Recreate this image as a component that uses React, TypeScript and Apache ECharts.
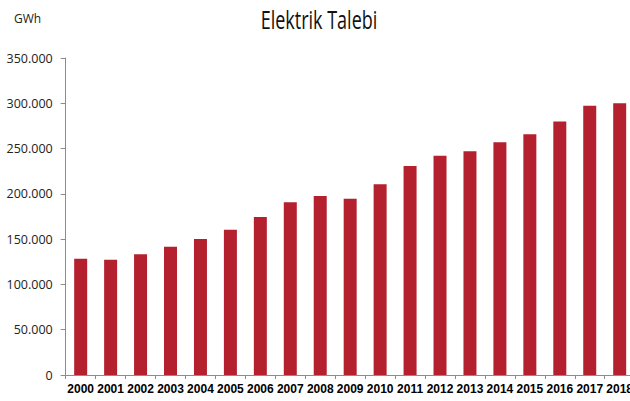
import React, { useEffect, useRef } from "react";
import * as echarts from "echarts";

const years = ["2000","2001","2002","2003","2004","2005","2006","2007","2008","2009","2010","2011","2012","2013","2014","2015","2016","2017","2018"];
const demand = [128400, 127300, 133200, 141700, 150200, 160400, 174400, 190700, 197600, 194700, 210500, 230800, 242200, 247000, 257000, 265700, 280000, 297400, 300000];
const titleText = "Elektrik Talebi";
const unitText = "GWh";

function fmt(v: number): string {
  if (v === 0) return "0";
  const s = String(Math.round(v));
  return s.replace(/\B(?=(\d{3})+(?!\d))/g, ".");
}

export default function App() {
  const ref = useRef<HTMLDivElement>(null);
  useEffect(() => {
    if (!ref.current) return;
    const chart = echarts.init(ref.current, null, { renderer: "svg" });
    chart.setOption({
      animation: false,
      backgroundColor: "#ffffff",
      graphic: [
        {
          type: "text",
          x: 319,
          y: 7,
          scaleX: 0.72,
          style: {
            text: titleText,
            x: 0,
            y: 0,
            textAlign: "center",
            textVerticalAlign: "top",
            font: "25px 'Open Sans', sans-serif",
            fill: "#111",
          },
        },
        {
          type: "text",
          left: 14,
          top: 12,
          style: {
            text: unitText,
            font: "12px 'Open Sans', sans-serif",
            fill: "#222",
          },
        },
      ],
      grid: { left: 65.7, right: 0, top: 58, bottom: 26, containLabel: false },
      xAxis: {
        type: "category",
        data: years,
        axisLine: { lineStyle: { color: "#8c8c8c", width: 1 } },
        axisTick: { show: true, length: 4, lineStyle: { color: "#8c8c8c" } },
        axisLabel: {
          interval: 0,
          margin: 8,
          fontFamily: "'Liberation Sans', Arial, sans-serif",
          fontWeight: "bold",
          fontSize: 12,
          color: "#000",
        },
      },
      yAxis: {
        type: "value",
        min: 0,
        max: 350000,
        interval: 50000,
        splitLine: { show: false },
        axisLine: { show: true, lineStyle: { color: "#8c8c8c", width: 1 } },
        axisTick: { show: true, length: 5, lineStyle: { color: "#8c8c8c" } },
        axisLabel: {
          margin: 13,
          formatter: (v: number) => fmt(v),
          fontFamily: "'Open Sans', sans-serif",
          fontSize: 12.5,
          color: "#222",
        },
      },
      series: [
        {
          type: "bar",
          data: demand,
          barWidth: 13,
          itemStyle: { color: "#B5202F" },
        },
      ],
    });
    return () => chart.dispose();
  }, []);
  return (
    <div style={{ position: "fixed", left: 0, top: 0, width: 630, height: 401, overflow: "hidden", background: "#fff" }}>
      <div ref={ref} style={{ width: 636, height: 401 }} />
    </div>
  );
}
